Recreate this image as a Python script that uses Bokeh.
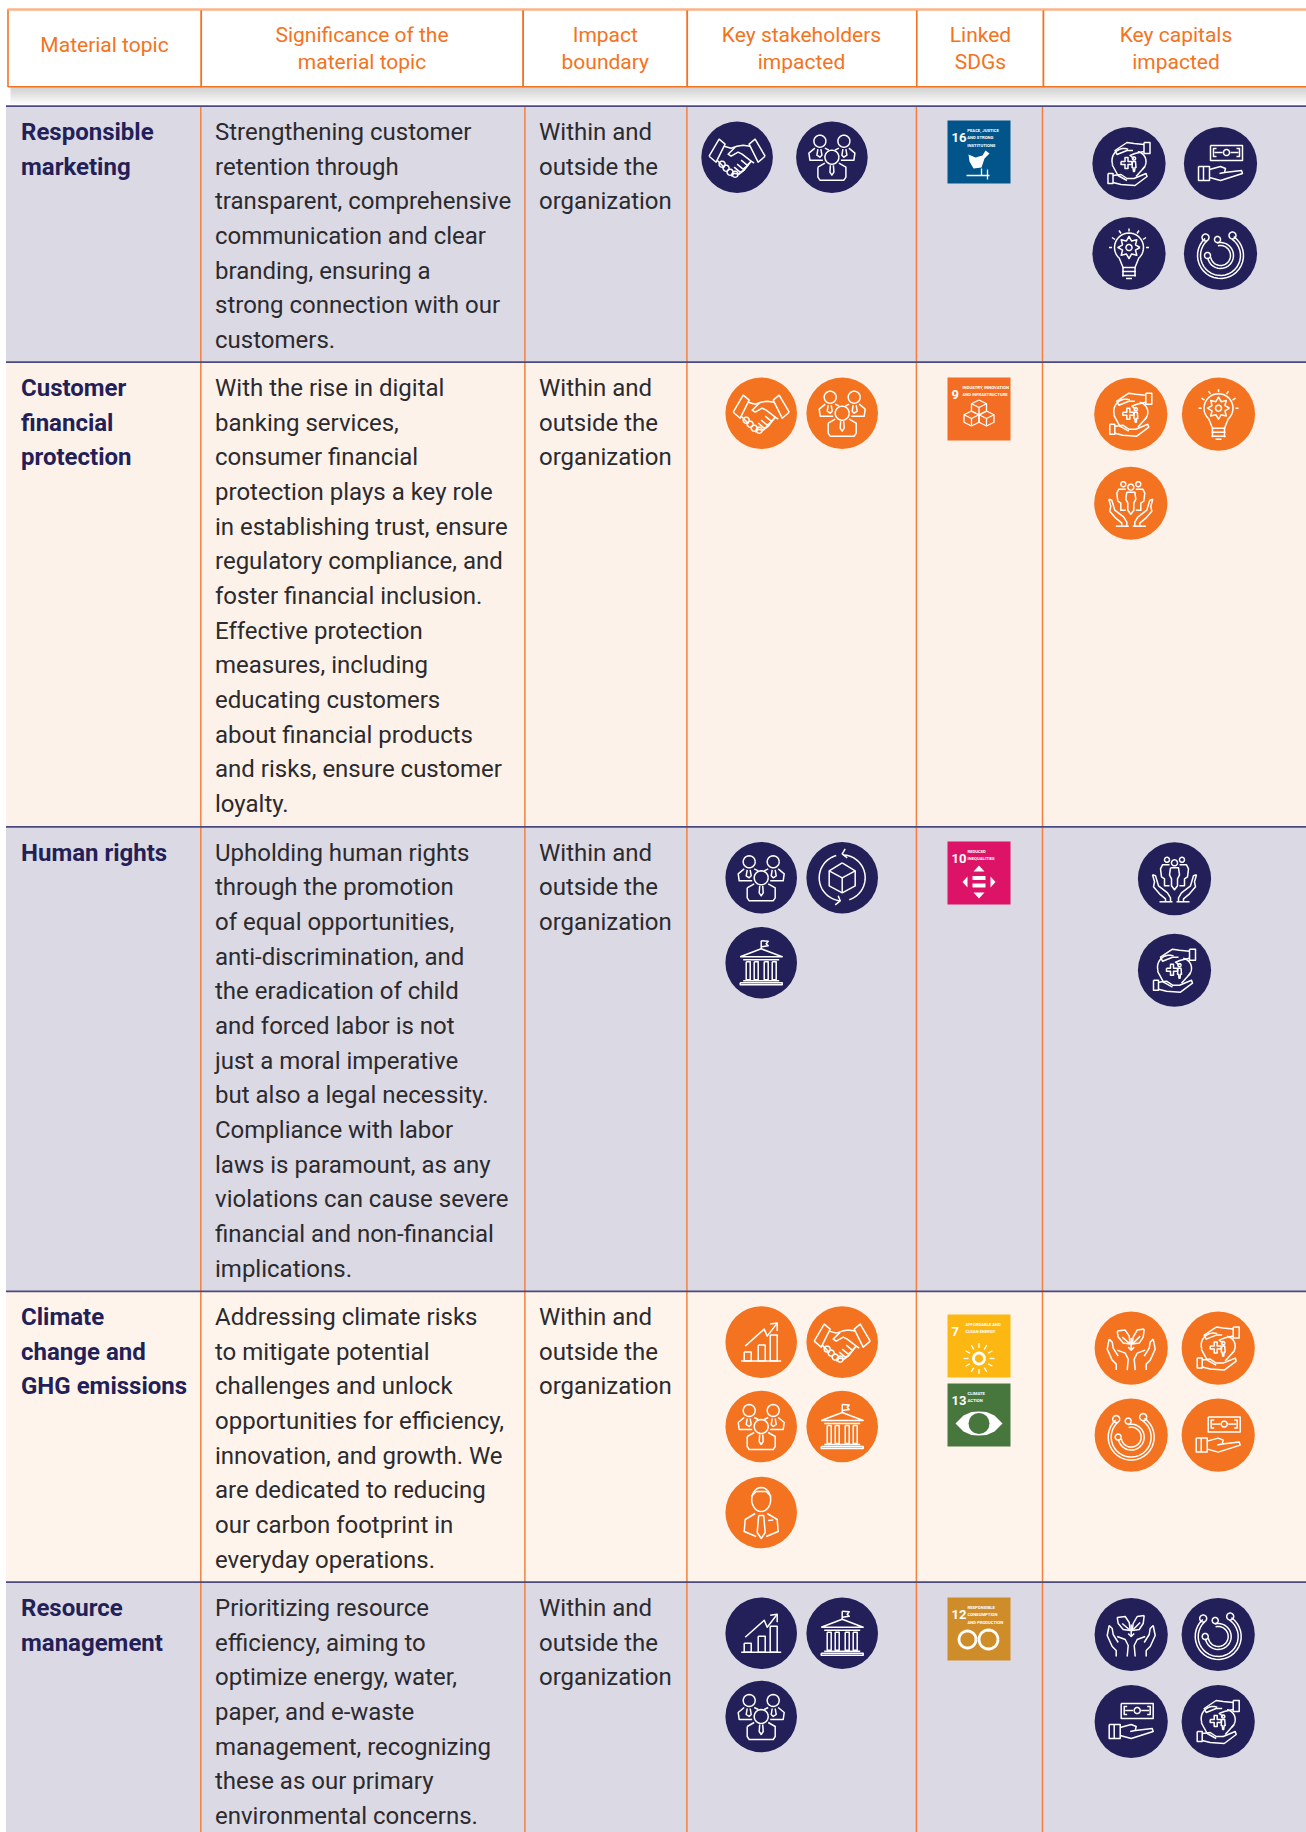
import math
from bokeh.plotting import figure
from bokeh.models import Range1d
from bokeh.embed import file_html
from bokeh.resources import INLINE
from bokeh.core.properties import value

# ---------- content ----------
headers = [["Material topic"], ["Significance of the", "material topic"], ["Impact", "boundary"],
           ["Key stakeholders", "impacted"], ["Linked", "SDGs"], ["Key capitals", "impacted"]]
topics = [["Responsible", "marketing"], ["Customer", "financial", "protection"], ["Human rights"],
          ["Climate", "change and", "GHG emissions"], ["Resource", "management"]]
significance = [
    ["Strengthening customer", "retention through", "transparent, comprehensive", "communication and clear",
     "branding, ensuring a", "strong connection with our", "customers."],
    ["With the rise in digital", "banking services,", "consumer financial", "protection plays a key role",
     "in establishing trust, ensure", "regulatory compliance, and", "foster financial inclusion.",
     "Effective protection", "measures, including", "educating customers", "about financial products",
     "and risks, ensure customer", "loyalty."],
    ["Upholding human rights", "through the promotion", "of equal opportunities,", "anti-discrimination, and",
     "the eradication of child", "and forced labor is not", "just a moral imperative", "but also a legal necessity.",
     "Compliance with labor", "laws is paramount, as any", "violations can cause severe",
     "financial and non-financial", "implications."],
    ["Addressing climate risks", "to mitigate potential", "challenges and unlock", "opportunities for efficiency,",
     "innovation, and growth. We", "are dedicated to reducing", "our carbon footprint in", "everyday operations."],
    ["Prioritizing resource", "efficiency, aiming to", "optimize energy, water,", "paper, and e-waste",
     "management, recognizing", "these as our primary", "environmental concerns."],
]
boundary = ["Within and", "outside the", "organization"]
stakeholders = [["shake", "people"], ["shake", "people"], ["people", "cycle", "bank"],
                ["chart", "shake", "people", "bank", "man"], ["chart", "bank", "people"]]
sdgs = [[16], [9], [10], [7, 13], [12]]
capitals = [["care", "money", "bulb", "swirl"], ["care", "bulb", "community"], ["community", "care"],
            ["plant", "care", "swirl", "money"], ["plant", "swirl", "money", "care"]]
sdg_titles = {16: ["PEACE, JUSTICE", "AND STRONG", "INSTITUTIONS"], 9: ["INDUSTRY, INNOVATION", "AND INFRASTRUCTURE"],
              10: ["REDUCED", "INEQUALITIES"], 7: ["AFFORDABLE AND", "CLEAN ENERGY"], 13: ["CLIMATE", "ACTION"],
              12: ["RESPONSIBLE", "CONSUMPTION", "AND PRODUCTION"]}
sdg_colors = {16: "#02558B", 9: "#F36D25", 10: "#DD1367", 7: "#FDB713", 13: "#48773E", 12: "#CF8D2A"}

# ---------- layout (page pixels) ----------
W, H = 1306, 1832
NAVY, ORANGE, LAV, CREAM, CREAM2 = "#231F58", "#F47321", "#DBD9E3", "#FDF2E9", "#FEF4EB"
row_edges = [105.7, 361.7, 826.3, 1290.8, 1581.6, 1840]
row_fill = [LAV, CREAM, LAV, CREAM2, LAV]
head_cols = [7.5, 200.8, 522.7, 686.8, 916.3, 1043, 1320]
body_cols = [5.5, 200.3, 524.4, 686.4, 915.9, 1042, 1320]
head_cx = [104, 361.5, 604.8, 801, 980, 1175.5]
stake_xy = [[(736.6, 156.7), (831.4, 156.7)],
            [(760.7, 412.7), (841.7, 412.7)],
            [(760.7, 877.3), (841.7, 877.3), (760.7, 962.3)],
            [(760.7, 1341.6), (841.7, 1341.6), (760.7, 1426), (841.7, 1426), (760.7, 1512)],
            [(760.7, 1632.8), (841.7, 1632.8), (760.7, 1716)]]
cap_xy = [[(1128.5, 163), (1220, 163), (1128.5, 253), (1220, 253)],
          [(1130.3, 413.7), (1218, 413.7), (1130.3, 502.7)],
          [(1174, 878.3), (1174, 969.7)],
          [(1130.7, 1347.6), (1217.7, 1347.6), (1130.7, 1434.6), (1217.7, 1434.6)],
          [(1130.7, 1634), (1217.7, 1634), (1130.7, 1721), (1217.7, 1721)]]
tile_y = [[120], [377], [841], [1314, 1383], [1597]]
TILE_X, TILE = 947, 63
title_dx = {16: 19.8, 9: 15, 10: 20, 7: 18, 13: 20, 12: 20}

# ---------- icon shapes (local coordinates around the disc centre) ----------
def arc(cx, cy, r, a0, a1, ry=None, n=28):
    ry = r if ry is None else ry
    return [(cx + r * math.cos(math.radians(a0 + (a1 - a0) * i / n)),
             cy + ry * math.sin(math.radians(a0 + (a1 - a0) * i / n))) for i in range(n + 1)]

def ring(cx, cy, r, ry=None):
    return arc(cx, cy, r, 0, 360, ry)

def box(x0, y0, x1, y1):
    return [(x0, y0), (x1, y0), (x1, y1), (x0, y1), (x0, y0)]

shake = [
    [(-28, -1), (-18, -18), (-12, -13), (-21, 5), (-28, -1)],
    [(28, -1), (18, -18), (12, -13), (21, 5), (28, -1)],
    [(-13, -11), (-6, -9), (0, -11), (6, -12), (13, -11)],
    [(-2, -10), (-9, -3), (-6, -1), (1, -5), (5, -3), (14, 4)],
    [(-20, 3), (-15, 8), (-13, 11)], [(17, 6), (14, 4), (7, 13), (2, 17), (-3, 16), (-6, 19)],
    [(14, 4), (10, 8), (4, 3)], [(11, 8), (6, 12), (0, 7)], [(7, 13), (3, 15), (-3, 10)],
    ring(-15, 7, 3), ring(-11, 11, 3), ring(-7, 15, 3), ring(-2, 17, 3),
]
people = [
    ring(-12, -16, 6), ring(12, -16, 6), ring(0, 0, 7),
    [(-9, 3), (-22, 3), (-23, -4), (-17, -9)], [(9, 3), (22, 3), (23, -4), (17, -9)],
    [(-7, -9), (-3, -7)], [(7, -9), (3, -7)],
    [(-14, -8), (-15, -2), (-12, 0), (-10, -2), (-11, -8)], [(14, -8), (15, -2), (12, 0), (10, -2), (11, -8)],
    [(-14, 10), (-14, 20), (-12, 23), (12, 23), (14, 20), (14, 10), (7, 6)], [(-14, 10), (-7, 6)],
    [(-1.5, 8), (-2, 15), (0, 18), (2, 15), (1.5, 8)],
]
cycle = [
    [(0, -15), (13, -7), (13, 8), (0, 15), (-13, 8), (-13, -7), (0, -15)],
    [(-13, -7), (0, 0), (13, -7)], [(0, 0), (0, 15)],
    arc(0, 0, 23, -85, 72), arc(0, 0, 23, 255, 95),
    [(3, -29), (0, -24), (5, -20)], [(-4, 18), (-2, 23), (-7, 27)],
]
bank = [
    [(0, -14), (0, -22)], [(0, -22), (7, -21.5), (5, -19), (7, -17), (0, -16)],
    [(-21, -6), (0, -14), (21, -6), (-21, -6)], [(-18, -3), (18, -3)],
    box(-15, -1, -11, 17), box(-7, -1, -3, 17), box(3, -1, 7, 17), box(11, -1, 15, 17),
    [(-18, 18), (18, 18)], box(-21, 20, 21, 22),
]
chart = [
    [(-20, 19), (20, 19)], box(-17, 10, -10, 19), box(-3, 3, 4, 19), box(9, -7, 16, 19),
    [(-16, 4), (3, -13), (6, -6), (16, -19)], [(9, -18), (16, -19), (16, -11)],
]
man = [
    arc(0, -13, 9.5, -180, 180, ry=12), [(-10, -16), (-5, -21), (5, -21), (10, -16)],
    [(-6, 1), (-16, 7), (-17, 19), (-5, 24)], [(6, 1), (16, 7), (17, 19), (5, 24)],
    [(-2.5, 3), (2.5, 3), (4, 20), (0, 26), (-4, 20), (-2.5, 3)], [(7, 8), (12, 7.5)],
]
care = [
    box(15, -21, 21, -10), [(15, -19), (5, -20), (-2, -21), (-14, -13), (-12, -9), (-2, -13), (4, -13)],
    [(15, -12), (6, -10), (1, -8), (5, -5)],
    arc(-5, -3, 12, 160, 290), arc(7, -2, 10, -80, 50),
    [(-17, 1), (-11, 12), (-2, 17)], [(16, 3), (7, 13)],
    box(-21, 10, -16, 20), [(-16, 12), (-8, 11), (-2, 15), (5, 15), (17, 10), (18, 13), (6, 22), (-8, 21), (-16, 19)],
    [(-8, -2), (-4, -2), (-4, -6), (-1, -6), (-1, -2), (3, -2), (3, 1), (-1, 1), (-1, 5), (-4, 5), (-4, 1), (-8, 1), (-8, -2)],
    ring(5, -5, 1.6), [(3.5, -2), (6.5, -2), (7, 4), (6, 4), (5.5, 8), (4.5, 8), (4, 4), (3, 4), (3.5, -2)],
]
money = [
    box(-10, -18, 22, -3), arc(6, -11, 3, 0, 360), [(-6, -11), (2, -11)], [(10, -11), (18, -11)],
    [(-4, -15), (-7, -15), (-7, -7), (-4, -7)], [(16, -15), (19, -15), (19, -7), (16, -7)],
    box(-22, 3, -11, 17), [(-17, 3), (-17, 17)],
    [(-11, 6), (0, 3), (5, 5), (4, 9), (-1, 10)], [(4, 9), (21, 7), (22, 10), (0, 17), (-11, 14)],
]
gear = []
for i in range(17):
    ang = math.radians(i * 22.5)
    rad = 11 if i % 2 == 0 else 7
    gear.append((rad * math.cos(ang), -6 + rad * math.sin(ang)))
bulb = [
    arc(0, -6, 14.5, 135, 405), [(-10, 4), (-6, 14), (-6, 23)], [(10, 4), (6, 14), (6, 23)],
    [(-7, 14), (7, 14)], [(-7, 18), (7, 18)], [(-7, 22), (7, 22)], [(-3, 25), (3, 25)],
    gear, ring(0, -6, 3),
    [(-20, -6), (-17, -6)], [(17, -6), (20, -6)], [(-17, -16), (-14, -14)], [(17, -16), (14, -14)],
    [(-10, -23), (-8, -20)], [(10, -23), (8, -20)], [(0, -25), (0, -22)],
]
swirl = [
    arc(0, 2, 23, 228, -55), arc(0, 2, 20, 228, -55), arc(0, 2, 13, 170, -105), arc(0, 2, 10, 170, -105),
    ring(-15, -16, 3.5), ring(12, -18, 3.5), ring(-3, -14, 3), ring(-13, 2, 3),
]
community = [
    ring(0, -16, 3), ring(-7.5, -19, 2.5), ring(7.5, -19, 2.5),
    [(-4, -11), (4, -11), (5, -4), (3, 0), (3, 7), (0, 11), (-3, 7), (-3, 0), (-5, -4), (-4, -11)],
    [(-5, -14), (-12, -14), (-14, -10), (-13, -2), (-10, 0), (-10, 7), (-5, 7)],
    [(5, -14), (12, -14), (14, -10), (13, -2), (10, 0), (10, 7), (5, 7)],
    [(-22, -4), (-20, 3), (-21, 8), (-15, 15), (-9, 20), (-9, 23)],
    [(-22, -4), (-19, -3), (-16, 7), (-7, 14), (-4, 19), (-4, 23)],
    [(22, -4), (20, 3), (21, 8), (15, 15), (9, 20), (9, 23)],
    [(22, -4), (19, -3), (16, 7), (7, 14), (4, 19), (4, 23)],
    [(-15, 23), (-2, 23)], [(15, 23), (2, 23)],
]
plant = [
    [(-14, -17), (-6, -18), (-2, -12), (-1, -4), (-8, -5), (-13, -11), (-14, -17)],
    [(13, -19), (6, -18), (2, -11), (1, -4), (8, -5), (12, -11), (13, -19)],
    [(0, -10), (0, 2)], [(-3, -1), (0, 2), (3, -1)], [(-9, -11), (-2, -5)], [(9, -12), (2, -5)],
    [(-22, -9), (-24, 1), (-19, 12), (-15, 16), (-15, 22)], [(-22, -9), (-19, -6), (-18, 0), (-13, 8)],
    [(-14, 2), (-6, 5), (-3, 11), (-4, 22)], [(22, -9), (24, 1), (19, 12), (15, 16), (15, 22)],
    [(22, -9), (19, -6), (18, 0), (13, 8)], [(14, 2), (6, 5), (3, 11), (4, 22)],
]
ICONS = dict(shake=shake, people=people, cycle=cycle, bank=bank, chart=chart, man=man, care=care,
             money=money, bulb=bulb, swirl=swirl, community=community, plant=plant)

# ---------- SDG tile emblems: (outline polylines, filled shapes, thick strokes), 0..63 local ----------
def cube(cx, cy, s):
    return [[(cx, cy - s), (cx + s, cy - s / 2), (cx + s, cy + s / 2), (cx, cy + s), (cx - s, cy + s / 2), (cx - s, cy - s / 2), (cx, cy - s)],
            [(cx - s, cy - s / 2), (cx, cy), (cx + s, cy - s / 2)], [(cx, cy), (cx, cy + s)]]
sun_rays = []
for i in range(12):
    a = math.radians(i * 30)
    sun_rays.append([(31.5 + 10.5 * math.cos(a), 44 + 10.5 * math.sin(a)), (31.5 + 15.5 * math.cos(a), 44 + 15.5 * math.sin(a))])
TILE_ART = {
    16: ([[(19, 55), (42, 55)], [(40, 49), (40, 59)], [(34, 48), (34, 55)]],
         [[(21, 34), (28, 37), (35, 35), (38, 30), (42, 33), (37, 38), (34, 47), (26, 48), (22, 41)]], []),
    9: (cube(31.5, 30, 7.5) + cube(24, 41, 7.5) + cube(39, 41, 7.5), [], []),
    10: ([], [[(31.5, 24), (37, 30), (26, 30)], [(31.5, 57), (37, 51), (26, 51)], [(15, 40.5), (20, 35), (20, 46)],
              [(48, 40.5), (43, 35), (43, 46)], [(25, 34.5), (38, 34.5), (38, 38.5), (25, 38.5)],
              [(25, 42), (38, 42), (38, 46), (25, 46)]], []),
    7: (sun_rays, [], [ring(31.5, 44, 5.5)]),
    13: ([], [[(8, 40), (16, 32), (24, 28.5), (31.5, 28), (39, 28.5), (47, 32), (55, 40), (47, 48), (39, 51.5), (31.5, 52), (24, 51.5), (16, 48)]],
         []),
    12: ([], [], [arc(20, 42, 8.5, 0, 360), arc(41, 42, 9.5, 0, 360)]),
}

# ---------- figure ----------
p = figure(width=W, height=H, x_range=Range1d(0, W), y_range=Range1d(H, 0), toolbar_location=None,
           output_backend="svg", min_border=0, outline_line_color=None,
           background_fill_color="white", border_fill_color="white")
p.axis.visible = False
p.grid.visible = False

# header shadow
for k in range(8):
    p.quad(left=[10], right=[1320], top=[86], bottom=[88 + 2.2 * k], fill_color="#555555", fill_alpha=0.035, line_color=None)
# header box
p.quad(left=head_cols[:-1], right=head_cols[1:], top=[9] * 6, bottom=[86.3] * 6, fill_color="white", line_color=ORANGE, line_width=1.6)
p.segment(x0=[7], x1=[1320], y0=[9], y1=[9], line_color="#FAB287", line_width=1.8)
# body rows
p.quad(left=[body_cols[0]] * 5, right=[1320] * 5, top=row_edges[:-1], bottom=row_edges[1:], fill_color=row_fill, line_color=None)
p.segment(x0=body_cols[1:-1], x1=body_cols[1:-1], y0=[row_edges[0]] * 5, y1=[H] * 5, line_color="#F4803F", line_width=1.5)
p.segment(x0=[body_cols[0]] * 5, x1=[1320] * 5, y0=row_edges[:5], y1=row_edges[:5], line_color="#4C4880", line_width=1.8)

# discs and their icons
disc_x, disc_y, disc_r, disc_c, lx, ly = [], [], [], [], [], []
def add_icon(name, cx, cy):
    for line in ICONS[name]:
        lx.append([cx + a for a, _ in line])
        ly.append([cy + b for _, b in line])
for r in range(5):
    col = NAVY if r % 2 == 0 else "#F47321"
    for name, (cx, cy) in zip(stakeholders[r], stake_xy[r]):
        disc_x.append(cx); disc_y.append(cy); disc_r.append(35.8); disc_c.append(col)
        add_icon(name, cx, cy)
    for name, (cx, cy) in zip(capitals[r], cap_xy[r]):
        disc_x.append(cx); disc_y.append(cy); disc_r.append(36.6); disc_c.append(col)
        add_icon(name, cx, cy)
p.circle(x=disc_x, y=disc_y, radius=disc_r, fill_color=disc_c, line_color=None)
p.multi_line(xs=lx, ys=ly, line_color="white", line_width=1.5, line_join="round")

# SDG tiles
sx, sy, nums, tx, ty, tt = [], [], [], [], [], []
ax, ay, fx, fy, kx, ky = [], [], [], [], [], []
tl, tr, tt0, tb, tc = [], [], [], [], []
eye_x, eye_y, eye_c = [], [], []
for r in range(5):
    for goal, y0 in zip(sdgs[r], tile_y[r]):
        tl.append(TILE_X); tr.append(TILE_X + TILE); tt0.append(y0); tb.append(y0 + TILE); tc.append(sdg_colors[goal])
        sx.append(TILE_X + 4); sy.append(y0 + 17); nums.append(str(goal))
        for i, t in enumerate(sdg_titles[goal]):
            tx.append(TILE_X + title_dx[goal]); ty.append(y0 + 10 + i * 7.4); tt.append(t)
        lines, fills, thick = TILE_ART[goal]
        for line in lines:
            ax.append([TILE_X + a for a, _ in line]); ay.append([y0 + b for _, b in line])
        for shp in fills:
            fx.append([TILE_X + a for a, _ in shp]); fy.append([y0 + b for _, b in shp])
        for line in thick:
            kx.append([TILE_X + a for a, _ in line]); ky.append([y0 + b for _, b in line])
        if goal == 13:
            eye_x.append(TILE_X + 31.5); eye_y.append(y0 + 40); eye_c.append(sdg_colors[goal])
p.quad(left=tl, right=tr, top=tt0, bottom=tb, fill_color=tc, line_color=None)
p.patches(xs=fx, ys=fy, fill_color="white", line_color=None)
p.circle(x=eye_x, y=eye_y, radius=[10.5] * len(eye_x), fill_color=eye_c, line_color=None)
p.multi_line(xs=ax, ys=ay, line_color="white", line_width=1.3)
p.multi_line(xs=kx, ys=ky, line_color="white", line_width=2.8)
p.text(x=sx, y=sy, text=nums, text_font=value("Roboto"), text_font_size="13px", text_font_style="bold", text_color="white", text_baseline="alphabetic")
p.text(x=tx, y=ty, text=tt, text_font=value("Roboto"), text_font_size="4.2px", text_font_style="bold", text_color="white", text_baseline="alphabetic")

# header text
hx, hy, ht = [], [], []
for cx, lines in zip(head_cx, headers):
    first = 44.7 if len(lines) == 1 else 34.7
    for i, t in enumerate(lines):
        hx.append(cx); hy.append(first + i * 27); ht.append(t)
p.text(x=hx, y=hy, text=ht, text_font=value("Roboto"), text_font_size="21px", text_color="#F47321", text_align="center", text_baseline="alphabetic")

# body text
LH = 34.67
bx, by, bt, ox, oy, ot, gx, gy, gt = [], [], [], [], [], [], [], [], []
for r in range(5):
    base = row_edges[r] + 25.8
    for i, t in enumerate(topics[r]):
        ox.append(20.5); oy.append(base + i * LH); ot.append(t)
    for i, t in enumerate(significance[r]):
        bx.append(214.5); by.append(base + i * LH); bt.append(t)
    for i, t in enumerate(boundary):
        gx.append(538.5); gy.append(base + i * LH); gt.append(t)
p.text(x=ox, y=oy, text=ot, text_font=value("Roboto"), text_font_size="24px", text_font_style="bold", text_color=NAVY, text_baseline="alphabetic")
p.text(x=bx + gx, y=by + gy, text=bt + gt, text_font=value("Roboto"), text_font_size="24px", text_color="#2B2A2E", text_baseline="alphabetic")

open("out.html", "w").write(file_html(p, INLINE))
